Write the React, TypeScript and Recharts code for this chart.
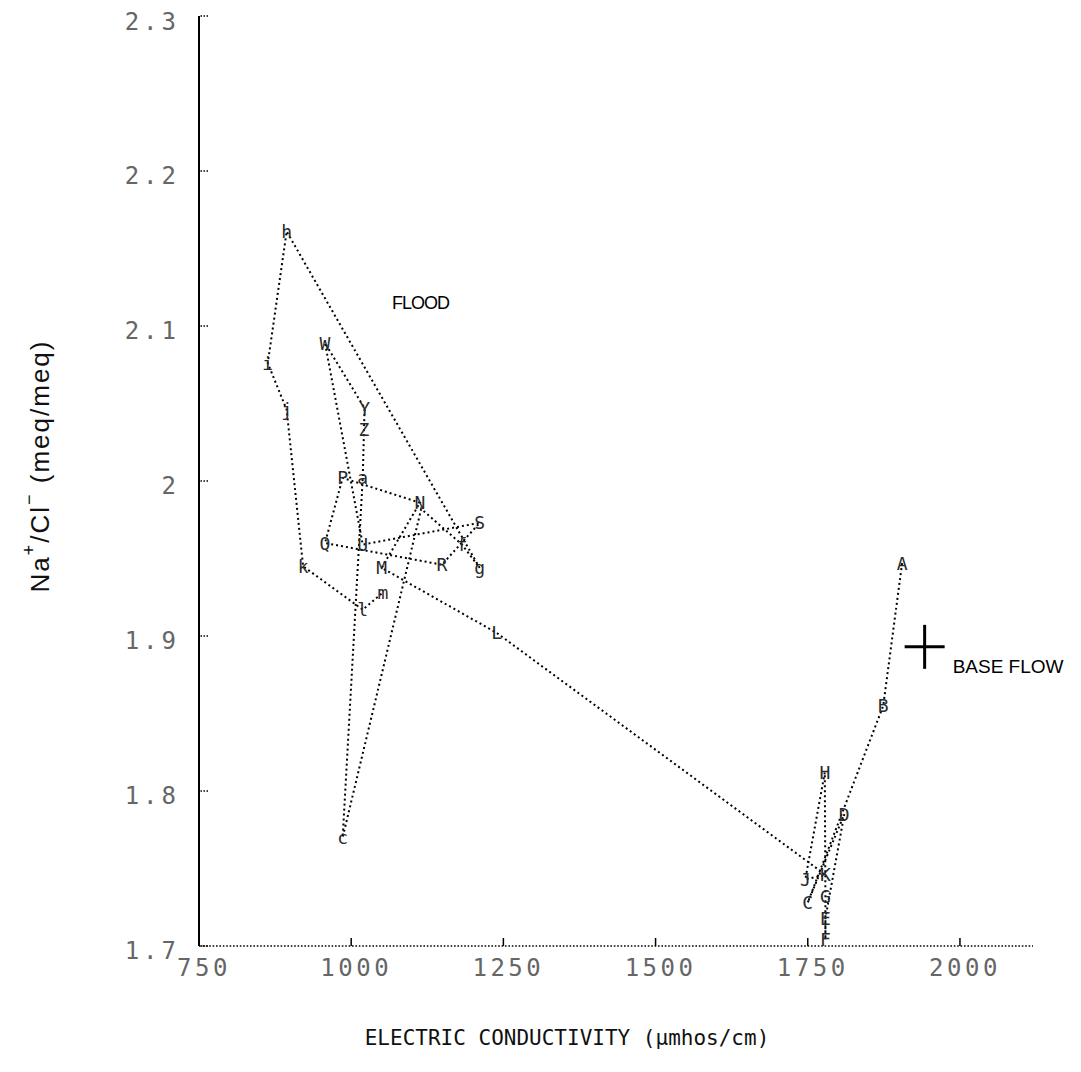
import React from 'react';
import { ScatterChart, Scatter, XAxis, YAxis } from 'recharts';

// Sample sequence (letters in sampling order; '' = point whose letter is hidden under a neighbour),
// electric conductivity and Na+/Cl- ratio
const sampleIds = ['A','B','C','D','E','F','G','H','J','K','L','M','N','P','Q','R','S','U','W','Y','Z','a','c','','f','g','h','i','j','k','l','m'];
const conductivity = [1905,1874,1750,1810,1779,1779,1779,1778,1746,1779,1239,1050,1113,986,957,1149,1211,1019,957,1022,1021,1019,986,1115,1182,1211,894,863,894,921,1019,1052];
const naClRatio = [1.947,1.855,1.728,1.785,1.718,1.704,1.732,1.812,1.743,1.746,1.902,1.944,1.986,2.002,1.960,1.946,1.973,1.959,2.089,2.047,2.033,2.002,1.770,1.982,1.959,1.944,2.161,2.076,2.046,1.945,1.917,1.928];

// Base flow reference and the flood annotation
const baseFlowEc = [1942];
const baseFlowRatio = [1.893];
const annotationText = ['FLOOD'];
const annotationEc = [1067];
const annotationRatio = [2.115];

const xTicks = [750, 1000, 1250, 1500, 1750, 2000];
const yTicks = [1.7, 1.8, 1.9, 2.0, 2.1, 2.2, 2.3];

const samples = sampleIds.map((id, i) => ({ id, ec: conductivity[i], ratio: naClRatio[i] }));
const baseFlow = baseFlowEc.map((ec, i) => ({ ec, ratio: baseFlowRatio[i] }));
const annotations = annotationText.map((text, i) => ({ text, ec: annotationEc[i], ratio: annotationRatio[i] }));

const monoFont = '"DejaVu Sans Mono", monospace';
const sansFont = '"Liberation Sans", Arial, sans-serif';

const SampleLetter = (props: any) => {
  const { cx, cy, payload } = props;
  if (!payload.id) return <g />;
  return (
    <text x={cx} y={cy} textAnchor="middle" dominantBaseline="central"
      fontFamily={monoFont} fontSize={18} fill="#2a2a2a">
      {payload.id}
    </text>
  );
};

const BaseFlowMark = (props: any) => {
  const { cx, cy } = props;
  return (
    <g>
      <line x1={cx - 20} y1={cy} x2={cx + 20} y2={cy} stroke="#000" strokeWidth={3} />
      <line x1={cx} y1={cy - 22} x2={cx} y2={cy + 22} stroke="#000" strokeWidth={3} />
      <text x={cx + 28} y={cy + 26} fontFamily={sansFont} fontSize={19} fill="#000">
        BASE FLOW
      </text>
    </g>
  );
};

const AnnotationText = (props: any) => {
  const { cx, cy, payload } = props;
  return (
    <text x={cx} y={cy} dominantBaseline="central" fontFamily={sansFont}
      fontSize={18} letterSpacing={-1} fill="#000">
      {payload.text}
    </text>
  );
};

const YTick = (props: any) => {
  const { x, y, payload } = props;
  const v = payload.value;
  const label = Math.abs(v - 2) < 1e-9 ? '2' : v.toFixed(1);
  return (
    <text x={x} y={y + 5} textAnchor="end" dominantBaseline="central"
      fontFamily={monoFont} fontSize={24} letterSpacing={4} fill="#666">
      {label}
    </text>
  );
};

const XTick = (props: any) => {
  const { x, y, payload } = props;
  return (
    <text x={x + 5} y={y} textAnchor="middle" dominantBaseline="central"
      fontFamily={monoFont} fontSize={24} letterSpacing={3.5} fill="#666">
      {String(payload.value)}
    </text>
  );
};

const XTitle = (props: any) => {
  const vb = props.viewBox;
  return (
    <text x={vb.x + vb.width / 2 - 49} y={vb.y + 92} textAnchor="middle" dominantBaseline="central"
      fontFamily={monoFont} fontSize={21} fill="#111">
      ELECTRIC CONDUCTIVITY (µmhos/cm)
    </text>
  );
};

const YTitle = (props: any) => {
  const vb = props.viewBox;
  const x = vb.x + 32;
  const y = vb.y + vb.height / 2 - 15;
  return (
    <text x={x} y={y} transform={`rotate(-90, ${x}, ${y})`} textAnchor="middle" dominantBaseline="central"
      fontFamily={sansFont} fontSize={26} letterSpacing={2} fill="#111">
      Na<tspan dy={-11} fontSize={18}>+</tspan><tspan dy={11}>/Cl</tspan><tspan dy={-11} fontSize={18}>−</tspan><tspan dy={11}>{'   '}(meq/meq)</tspan>
    </text>
  );
};

export default function App() {
  return (
    <div style={{ background: '#fff' }}>
      <ScatterChart width={1065} height={1056} margin={{ top: 8, right: 40, bottom: 0, left: 0 }}>
        <XAxis type="number" dataKey="ec" domain={[750, 2120]} ticks={xTicks}
          height={118} tickSize={-8} tickMargin={30} tick={<XTick />}
          axisLine={{ stroke: '#000', strokeWidth: 1.6, strokeDasharray: '1.6 1.8' }}
          tickLine={{ stroke: '#000', strokeWidth: 1.5 }}
          label={{ content: <XTitle /> }} />
        <YAxis type="number" dataKey="ratio" domain={[1.7, 2.3]} ticks={yTicks}
          width={191} tickSize={-9} tickMargin={28} tick={<YTick />}
          axisLine={{ stroke: '#000', strokeWidth: 2 }}
          tickLine={{ stroke: '#000', strokeWidth: 1.5, strokeDasharray: '1.5 1.5' }}
          label={{ content: <YTitle /> }} />
        <Scatter data={samples} isAnimationActive={false} shape={<SampleLetter />}
          line={{ stroke: '#000', strokeWidth: 2, strokeDasharray: '2 3' }} lineType="joint" />
        <Scatter data={baseFlow} isAnimationActive={false} shape={<BaseFlowMark />} />
        <Scatter data={annotations} isAnimationActive={false} shape={<AnnotationText />} />
      </ScatterChart>
    </div>
  );
}
